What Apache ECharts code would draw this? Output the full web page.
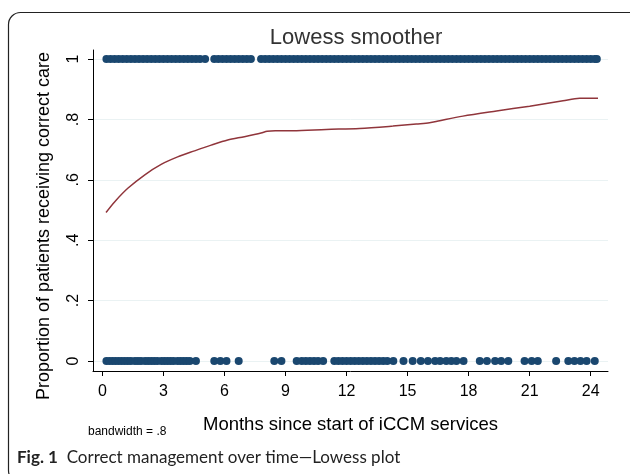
<!DOCTYPE html>
<html>
<head>
<meta charset="utf-8">
<script src="https://cdn.jsdelivr.net/npm/echarts@6/dist/echarts.min.js"></script>
<style>
  html, body { margin: 0; padding: 0; background: #fff; }
  #chart { width: 630px; height: 474px; }
</style>
</head>
<body>
<div id="chart"></div>
<script>
// months since start, patients with correct care (y = 1)
var correctMonths = [0.2, 0.4, 0.6, 0.8, 1.0, 1.2, 1.4, 1.6, 1.8, 2.0, 2.2, 2.4, 2.6, 2.8, 3.0, 3.2,
  3.4, 3.6, 3.8, 4.0, 4.2, 4.4, 4.6, 4.8, 5.05,
  5.5, 5.7, 5.9, 6.1, 6.3, 6.5, 6.7, 6.9, 7.1, 7.3,
  7.8, 8.0, 8.2, 8.4, 8.6, 8.8, 9.0, 9.2, 9.4, 9.6, 9.8, 10.0, 10.2, 10.4, 10.6, 10.8, 11.0, 11.2,
  11.4, 11.6, 11.8, 12.0, 12.2, 12.4, 12.6, 12.8, 13.0, 13.2, 13.4, 13.6, 13.8, 14.0, 14.2, 14.4,
  14.6, 14.8, 15.0, 15.2, 15.4, 15.6, 15.8, 16.0, 16.2, 16.4, 16.6, 16.8, 17.0, 17.2, 17.4, 17.6,
  17.8, 18.0, 18.2, 18.4, 18.6, 18.8, 19.0, 19.2, 19.4, 19.6, 19.8, 20.0, 20.2, 20.4, 20.6, 20.8,
  21.0, 21.2, 21.4, 21.6, 21.8, 22.0, 22.2, 22.4, 22.6, 22.8, 23.0, 23.2, 23.4, 23.6, 23.8, 24.0,
  24.2, 24.3];

// months since start, patients without correct care (y = 0)
var incorrectMonths = [0.2, 0.35, 0.5, 0.65, 0.8, 0.95, 1.1, 1.25, 1.4, 1.6, 1.75, 1.9, 2.1, 2.25, 2.4,
  2.55, 2.7, 2.9, 3.05, 3.2, 3.35, 3.5, 3.7, 3.85, 4.0, 4.15, 4.3, 4.6,
  5.5, 5.8, 6.1, 6.7,
  8.45, 8.8,
  9.55, 9.8, 10.0, 10.2, 10.4, 10.6, 10.85,
  11.4, 11.6, 11.8, 12.0, 12.2, 12.4, 12.6, 12.8, 13.0, 13.2, 13.4, 13.6, 13.8, 14.0, 14.3,
  14.8, 15.25, 15.65, 16.0, 16.35, 16.6, 16.9, 17.15, 17.4, 17.75,
  18.55, 18.9, 19.3, 19.6, 19.95, 20.75, 21.1, 21.4, 22.3, 22.9, 23.2, 23.5, 23.8, 24.2];

// lowess smoothed curve
var lowessMonths = [0.18, 0.6, 1.25, 2.07, 2.89, 3.7, 4.53, 5.35, 6.16, 6.98, 7.8, 8.1, 8.5, 9.36,
  11.0, 12.64, 14.28, 15.43, 16.08, 16.58, 17.72, 19.37, 21.0, 22.64, 23.46, 24.36];
var lowessValues = [0.492, 0.527, 0.572, 0.616, 0.651, 0.676, 0.696, 0.715, 0.732, 0.743, 0.755, 0.761,
  0.763, 0.763, 0.767, 0.770, 0.778, 0.785, 0.789, 0.796, 0.811, 0.828, 0.844, 0.862, 0.870, 0.870];

var xTicks = [0, 3, 6, 9, 12, 15, 18, 21, 24];
var yTicks = [0, 0.2, 0.4, 0.6, 0.8, 1];

var font = 'Liberation Sans, Arial, Helvetica, sans-serif';
var captionFont = 'Lato, Noto Sans, sans-serif';

var chart = echarts.init(document.getElementById('chart'));

chart.setOption({
  backgroundColor: '#fff',
  animation: false,
  title: {
    text: 'Lowess smoother',
    left: 351,
    top: 22,
    textAlign: 'center',
    textStyle: { fontFamily: font, fontSize: 22, fontWeight: 'normal', color: '#333' }
  },
  grid: { left: 93, right: 22, top: 50, bottom: 103 },
  xAxis: {
    type: 'value',
    min: -0.46,
    max: 24.85,
    name: 'Months since start of iCCM services',
    nameLocation: 'middle',
    nameGap: 44,
    nameTextStyle: { fontFamily: font, fontSize: 18.5, color: '#000' },
    axisLine: { onZero: false, lineStyle: { color: '#000', width: 1 } },
    axisTick: { show: true, length: 5, customValues: xTicks, lineStyle: { color: '#000' } },
    axisLabel: {
      customValues: xTicks,
      margin: 13,
      fontFamily: font, fontSize: 16, color: '#000'
    },
    splitLine: { show: false }
  },
  yAxis: {
    type: 'value',
    min: -0.033,
    max: 1.03,
    axisLine: { show: true, onZero: false, lineStyle: { color: '#000', width: 1 } },
    axisTick: { show: true, length: 5, customValues: yTicks, lineStyle: { color: '#000' } },
    axisLabel: {
      customValues: yTicks,
      rotate: 90,
      margin: 11,
      fontFamily: font, fontSize: 16, color: '#000',
      formatter: function (v) {
        if (v === 0) return '0';
        if (v === 1) return '1';
        return String(+v.toFixed(1)).replace(/^0/, '');
      }
    },
    splitLine: { show: true, lineStyle: { color: '#eaf2f3', width: 1 } }
  },
  series: [
    {
      type: 'scatter',
      symbol: 'circle',
      symbolSize: 8,
      itemStyle: { color: '#1a476f', opacity: 1 },
      data: correctMonths.map(function (m) { return [m, 1]; })
    },
    {
      type: 'scatter',
      symbol: 'circle',
      symbolSize: 8,
      itemStyle: { color: '#1a476f', opacity: 1 },
      data: incorrectMonths.map(function (m) { return [m, 0]; })
    },
    {
      type: 'line',
      smooth: 0.3,
      showSymbol: false,
      lineStyle: { color: '#90353b', width: 1.5 },
      data: lowessMonths.map(function (m, i) { return [m, lowessValues[i]]; })
    }
  ],
  graphic: [
    {
      type: 'rect',
      shape: { x: 8.5, y: 12.5, width: 650, height: 470, r: 12 },
      style: { fill: null, stroke: '#222', lineWidth: 1.2 },
      silent: true
    },
    {
      type: 'text',
      x: 44,
      y: 226,
      rotation: Math.PI / 2,
      style: {
        text: 'Proportion of patients receiving correct care',
        font: '18px ' + font,
        fill: '#000',
        align: 'center',
        verticalAlign: 'middle'
      }
    },
    {
      type: 'text',
      x: 88,
      y: 432,
      style: {
        text: 'bandwidth = .8',
        font: '12px ' + font,
        fill: '#000',
        align: 'left',
        verticalAlign: 'middle'
      }
    },
    {
      type: 'text',
      x: 17,
      y: 458,
      style: {
        text: '{b|Fig. 1}  Correct management over time\u2014Lowess plot',
        font: '17px ' + captionFont,
        fill: '#222',
        verticalAlign: 'middle',
        rich: {
          b: { fontWeight: 'bold', fontSize: 17, fontFamily: captionFont, fill: '#222' }
        }
      }
    }
  ]
});
</script>
</body>
</html>
